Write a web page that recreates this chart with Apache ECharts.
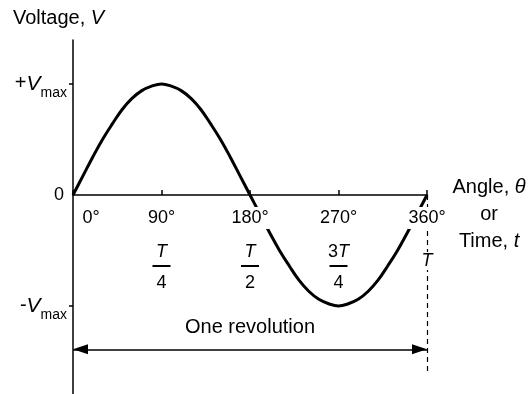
<!DOCTYPE html>
<html>
<head>
<meta charset="utf-8">
<script src="https://cdn.jsdelivr.net/npm/echarts@6/dist/echarts.min.js"></script>
<style>
html, body {margin: 0; padding: 0; background: #fff;}
#chart {width: 531px; height: 394px;}
</style>
</head>
<body>
<div id="chart"></div>
<script>
// angle in degrees and voltage as a fraction of Vmax
var angles  = [0, 10, 20, 30, 40, 50, 60, 70, 80, 90, 100, 110, 120, 130, 140, 150, 160, 170, 180,
               190, 200, 210, 220, 230, 240, 250, 260, 270, 280, 290, 300, 310, 320, 330, 340, 350, 360];
var voltage = [0, 0.17, 0.34, 0.5, 0.64, 0.77, 0.87, 0.94, 0.98, 1, 0.98, 0.94, 0.87, 0.77, 0.64, 0.5, 0.34, 0.17, 0,
               -0.17, -0.34, -0.5, -0.64, -0.77, -0.87, -0.94, -0.98, -1, -0.98, -0.94, -0.87, -0.77, -0.64, -0.5, -0.34, -0.17, 0];
var angleTicks = [0, 90, 180, 270, 360];
var timeLabels = ['', 'T/4', 'T/2', '3T/4', 'T'];
var voltTicks = [-1, 0, 1];
var periodLine = [[360, 0], [360, -1.6]];          // dashed line at T
var revolutionArrow = [[0, -1.39], [360, -1.39]];  // "One revolution" arrow

var FONT = '"Liberation Sans", Arial, sans-serif';

(function(){

var chart = echarts.init(document.getElementById("chart"));

var option = {
    animation: false,
    backgroundColor: '#fff',
    title: {
        text: 'Voltage, {i|V}',
        left: 13,
        top: 8,
        padding: 0,
        textStyle: {
            fontSize: 20, fontWeight: 'normal', color: '#000', fontFamily: FONT,
            rich: {
                i: {fontSize: 20, fontStyle: 'italic', color: '#000', fontFamily: FONT}
            }
        }
    },
    grid: {
        left: 73,
        right: 104,
        top: 40,
        bottom: 0,
        outerBoundsMode: 'none',
        containLabel: false
    },
    xAxis: {
        type: 'value',
        min: 0,
        max: 360,
        interval: 90,
        z: 10,
        offset: -199,   // sits on the zero line of the voltage axis
        splitLine: {show: false},
        axisLine: {onZero: false, lineStyle: {color: '#000', width: 1.5}},
        axisTick: {inside: true, length: 5, lineStyle: {color: '#000', width: 1.5}},
        name: 'Angle, {i|θ}\nor\nTime, {i|t}',
        nameLocation: 'end',
        nameGap: 55,
        nameTextStyle: {
            fontSize: 20, color: '#000', fontFamily: FONT,
            align: 'center', verticalAlign: 'middle', lineHeight: 27,
            padding: [38, 0, 0, 0],
            rich: {
                i: {fontSize: 20, fontStyle: 'italic', color: '#000', fontFamily: FONT, lineHeight: 27}
            }
        },
        axisLabel: {
            margin: 11,
            color: '#000',
            fontFamily: FONT,
            fontSize: 18,
            formatter: function (val) {
                var i = angleTicks.indexOf(val);
                if (i < 0) return '';
                if (i === 0) return '{d0|0°}';
                var s = '{deg|' + val + '°}\n';
                var t = timeLabels[i];
                if (t === 'T') return s + '{sp2| }\n{tt|T}';
                var parts = t.split('/');
                var num = parts[0].replace('T', '');
                return s + '{sp| }\n' + (num ? '{n|' + num + '}' : '') + '{ti|T}\n{bar| }\n{den|' + parts[1] + '}';
            },
            rich: {
                d0:  {fontSize: 18, fontFamily: FONT, color: '#000', lineHeight: 24, padding: [0, 0, 0, 36]},
                deg: {fontSize: 18, fontFamily: FONT, color: '#000', lineHeight: 24, height: 22, backgroundColor: '#fff', padding: [0, 1, 0, 1]},
                sp:  {fontSize: 1, lineHeight: 10, height: 10},
                sp2: {fontSize: 1, lineHeight: 21, height: 21},
                n:   {fontSize: 18, fontFamily: FONT, color: '#000', lineHeight: 24},
                ti:  {fontSize: 18, fontFamily: FONT, color: '#000', lineHeight: 24, fontStyle: 'italic'},
                tt:  {fontSize: 18, fontFamily: FONT, color: '#000', lineHeight: 20, height: 18, fontStyle: 'italic', backgroundColor: '#fff'},
                bar: {fontSize: 1, width: 18, height: 2, lineHeight: 4, backgroundColor: '#000'},
                den: {fontSize: 18, fontFamily: FONT, color: '#000', lineHeight: 30}
            }
        }
    },
    yAxis: {
        type: 'value',
        min: -1.793,
        max: 1.396,
        splitLine: {show: false},
        axisLine: {lineStyle: {color: '#000', width: 1.5}},
        axisTick: {customValues: [-1, 1], length: 4, lineStyle: {color: '#000', width: 1.5}},
        axisLabel: {
            customValues: voltTicks,
            margin: 6,
            color: '#000',
            fontFamily: FONT,
            formatter: function (v) {
                if (v === 0) return '{z|0}';
                return (v > 0 ? '{p|+}' : '{p|-}') + '{v|V}{s|max}';
            },
            rich: {
                z: {fontSize: 18, fontFamily: FONT, color: '#000', padding: [0, 3, 0, 0]},
                p: {fontSize: 20, fontFamily: FONT, color: '#000', lineHeight: 24},
                v: {fontSize: 21, fontFamily: FONT, color: '#000', lineHeight: 24, fontStyle: 'italic'},
                s: {fontSize: 14, fontFamily: FONT, color: '#000', height: 16, padding: [18, 0, 0, 0]}
            }
        }
    },
    series: [
        {
            type: 'line',
            data: angles.map(function (a, i) { return [a, voltage[i]]; }),
            smooth: 0.4,
            symbol: 'none',
            clip: false,
            lineStyle: {color: '#000', width: 3},
            z: 2,
            markLine: {
                silent: true,
                animation: false,
                label: {show: false},
                data: [
                    [
                        {coord: periodLine[0], symbol: 'none', lineStyle: {color: '#000', width: 1.2, type: [5, 4]}},
                        {coord: periodLine[1], symbol: 'none'}
                    ],
                    [
                        {
                            coord: revolutionArrow[0], symbol: 'triangle', symbolSize: [10, 15], symbolOffset: [0, '50%'],
                            lineStyle: {color: '#000', width: 1.5, type: 'solid'},
                            label: {
                                show: true, position: 'middle', formatter: 'One revolution', distance: 12,
                                fontSize: 20, color: '#000', fontFamily: FONT
                            }
                        },
                        {coord: revolutionArrow[1], symbol: 'triangle', symbolSize: [10, 15], symbolOffset: [0, '50%']}
                    ]
                ]
            }
        }
    ]
};

chart.setOption(option);
})();
</script>
</body>
</html>
